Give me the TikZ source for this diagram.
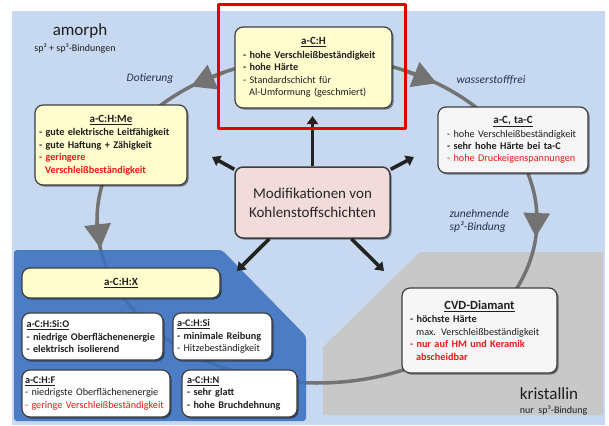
\documentclass[tikz,border=0pt]{standalone}
\usepackage{fontspec}
\setmainfont{Carlito}
\usetikzlibrary{shadows,arrows.meta,calc}

\definecolor{bgblue}{RGB}{198,217,240}
\definecolor{deepblue}{RGB}{60,112,190}
\definecolor{regiongray}{RGB}{200,200,200}
\definecolor{cyclegray}{RGB}{115,115,115}
\definecolor{boxline}{RGB}{62,62,62}
\definecolor{paleyellow}{RGB}{255,253,206}
\definecolor{offwhite}{RGB}{246,246,246}
\definecolor{palepink}{RGB}{242,220,219}
\definecolor{txt}{RGB}{30,30,30}
\definecolor{warn}{RGB}{236,22,22}
\definecolor{lbl}{RGB}{35,50,78}
\definecolor{frame}{RGB}{228,0,0}
\definecolor{ptr}{RGB}{35,35,35}

\newcommand\boxhead[1]{\makebox[\linewidth][c]{\fontsize{11}{13}\selectfont\textbf{\underline{#1}}}}
\newcommand\lefthead[1]{\textbf{\underline{#1}}}
\newcommand\bad[1]{\textcolor{warn}{#1}}

\tikzset{
  card/.style={draw=boxline, line width=1.2pt, rounded corners=8pt,
    drop shadow={shadow xshift=1.6pt, shadow yshift=-1.6pt, opacity=0.45, fill=black},
    inner sep=0pt, text=txt, align=left,
    font=\fontsize{10.2}{12.4}\selectfont},
  ycard/.style={card, fill=paleyellow},
  wcard/.style={card, fill=offwhite},
  pcard/.style={card, fill=white},
  ringline/.style={draw=cyclegray, line width=3.5pt},
  ringtip/.style={draw=cyclegray, fill=cyclegray, line width=3.5pt,
    -{Triangle[length=24pt,width=26pt]}},
  ptrline/.style={draw=ptr, line width=3.6pt, -{Triangle[length=8pt,width=11pt]}},
  lblit/.style={text=lbl, font=\fontsize{11.5}{13}\itshape},
  bigword/.style={text=txt, font=\fontsize{17}{19}\selectfont},
  smallword/.style={text=txt, font=\fontsize{10}{12}\selectfont}
}

\begin{document}
\begin{tikzpicture}[x=1pt,y=-1pt,line join=round]
\useasboundingbox (0,0) rectangle (609,425);

% page background
\fill[white] (0,0) rectangle (609,425);
\fill[bgblue] (12,11) rectangle (605,425);

% crystalline zone
\fill[regiongray] (420,252) -- (603,252) -- (603,415) -- (323,415) -- (323,347) -- cycle;

% cycle of modifications with direction marks
\coordinate (ring) at (317,220);
\draw[ringline] (ring) ellipse [x radius=220, y radius=163];
\draw[ringtip] ($(ring)+(-115:220 and 163)$) -- ($(ring)+(-125:220 and 163)$);
\draw[ringtip] ($(ring)+(-180:220 and 163)$) -- ($(ring)+(-190:220 and 163)$);
\draw[ringtip] ($(ring)+(-67:220 and 163)$) -- ($(ring)+(-57:220 and 163)$);
\draw[ringtip] ($(ring)+(-3:220 and 163)$) -- ($(ring)+(6:220 and 163)$);

% doped zone
\fill[deepblue, opacity=0.88, rounded corners=3pt]
  (14,250) -- (222,250) -- (306,336) -- (306,421) -- (14,421) -- cycle;

% layer cards
\node[ycard, minimum width=157pt, minimum height=81pt, text width=141pt] (ach) at (313.5,67.5)
 {\boxhead{a-C:H}\\[1pt]
  \textbf{- hohe Verschleißbeständigkeit}\\
  \textbf{- hohe Härte}\\
  - Standardschicht für\\
  \hspace*{0.6em}Al-Umformung (geschmiert)};

\node[ycard, minimum width=152pt, minimum height=80pt, text width=144pt] (achme) at (111,145)
 {\boxhead{a-C:H:Me}\\[1pt]
  \textbf{- gute elektrische Leitfähigkeit}\\
  \textbf{- gute Haftung + Zähigkeit}\\
  \textbf{\bad{- geringere}}\\
  \textbf{\bad{\hspace*{0.6em}Verschleißbeständigkeit}}};

\node[wcard, minimum width=150pt, minimum height=66pt, text width=132pt] (acta) at (513,140)
 {\boxhead{a-C, ta-C}\\[1pt]
  - hohe Verschleißbeständigkeit\\
  \textbf{- sehr hohe Härte bei ta-C}\\
  \bad{- hohe Druckeigenspannungen}};

\node[ycard, minimum width=198pt, minimum height=30pt, text width=190pt] (achx) at (121,283)
 {\boxhead{a-C:H:X}};

\node[pcard, minimum width=141pt, minimum height=47pt, text width=132pt] (sio) at (92.5,336.5)
 {\lefthead{a-C:H:Si:O}\\
  \textbf{- niedrige Oberflächenenergie}\\
  \textbf{- elektrisch isolierend}};

\node[pcard, minimum width=99pt, minimum height=47pt, text width=91pt] (si) at (222.5,336.5)
 {\lefthead{a-C:H:Si}\\
  \textbf{- minimale Reibung}\\
  - Hitzebeständigkeit};

\node[pcard, minimum width=148pt, minimum height=47pt, text width=142pt] (fl) at (96,393.5)
 {\lefthead{a-C:H:F}\\
  - niedrigste Oberflächenenergie\\
  \bad{- geringe Verschleißbeständigkeit}};

\node[pcard, minimum width=115pt, minimum height=47pt, text width=105pt] (ni) at (239.5,393.5)
 {\lefthead{a-C:H:N}\\
  \textbf{- sehr glatt}\\
  \textbf{- hohe Bruchdehnung}};

\node[wcard, minimum width=155pt, minimum height=85pt, text width=139pt] (cvd) at (479.5,330.5)
 {\makebox[\linewidth][c]{\fontsize{12.5}{14}\selectfont\textbf{\underline{CVD-Diamant}}}\\[1pt]
  \textbf{- höchste Härte}\\
  \hspace*{0.6em}max. Verschleißbeständigkeit\\
  \textbf{\bad{- nur auf HM und Keramik}}\\
  \textbf{\bad{\hspace*{0.6em}abscheidbar}}};

% central topic
\node[card, fill=palepink, line width=1.5pt, minimum width=155pt, minimum height=71pt,
      align=center, text=black!85, font=\fontsize{15}{19}\selectfont] (core) at (312.5,202.5)
 {Modifikationen von\\Kohlenstoffschichten};

\coordinate (tipN)  at (312.5,116);
\coordinate (tipNW) at (212,157);
\coordinate (tipNE) at (414,157);
\coordinate (tipSW) at (237,271);
\coordinate (tipSE) at (384,271);
\draw[ptrline] (core.north) -- (tipN);
\draw[ptrline] (core.157) -- (tipNW);
\draw[ptrline] (core.23) -- (tipNE);
\draw[ptrline] (core.220) -- (tipSW);
\draw[ptrline] (core.317) -- (tipSE);

% highlight frame
\node[draw=frame, line width=3pt, minimum width=187pt, minimum height=123pt, inner sep=0pt] (focus) at (311.5,66.5) {};

% zone and transition labels
\node[bigword] (amo) at (80,31) {amorph};
\node[smallword] (amosub) at (75,49) {sp² + sp³-Bindungen};
\node[lblit] (dot) at (150,79) {Dotierung};
\node[lblit] (hfree) at (491,80) {wasserstofffrei};
\node[lblit, align=left, anchor=west] (sp3up) at (446,221) {zunehmende\\sp³-Bindung};
\node[bigword] (kri) at (549,394) {kristallin};
\node[smallword, anchor=east] (krisub) at (591,410) {nur~~sp³-Bindung};
\end{tikzpicture}
\end{document}
